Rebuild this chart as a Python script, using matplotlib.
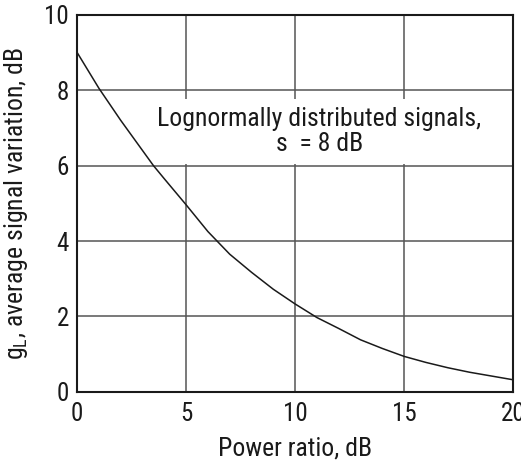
import matplotlib
matplotlib.use("Agg")
import matplotlib.pyplot as plt

power_ratio_db = [0, 1, 2, 3, 3.5, 4, 5, 6, 7, 8, 9, 10, 11, 12, 13, 14, 15, 16, 17, 18, 19, 20]
signal_variation_db = [9.0, 8.05, 7.2, 6.4, 6.0, 5.65, 4.96, 4.25, 3.65, 3.17, 2.72, 2.33,
                       1.97, 1.68, 1.38, 1.15, 0.94, 0.78, 0.64, 0.52, 0.42, 0.32]
x_ticks = [0, 5, 10, 15, 20]
y_ticks = [0, 2, 4, 6, 8, 10]
annotation = "Lognormally distributed signals,\ns  = 8 dB"

plt.rcParams['font.family'] = ['Roboto Condensed', 'Liberation Sans Narrow', 'Liberation Sans', 'DejaVu Sans']

fig = plt.figure(figsize=(5.21, 4.61), dpi=100)
ax = fig.add_axes([0.148, 0.150, 0.837, 0.818])

ax.plot(power_ratio_db, signal_variation_db, color='#1a1a1a', lw=1.1, zorder=4)

ax.set_xlim(0, 20)
ax.set_ylim(0, 10)
ax.set_xticks(x_ticks)
ax.set_yticks(y_ticks)
ax.tick_params(length=0, labelsize=18, colors='#1a1a1a')
ax.tick_params(axis='y', pad=6)
ax.tick_params(axis='x', pad=7)
ax.grid(True, color='#555555', lw=1.1)
ax.set_axisbelow(True)
for s in ax.spines.values():
    s.set_linewidth(1.5)
    s.set_color('#1a1a1a')

ax.set_xlabel("Power ratio, dB", fontsize=18.5, color='#1a1a1a', labelpad=8)
ax.set_ylabel(r"g$_\mathregular{L}$, average signal variation, dB", fontsize=18.5,
              color='#1a1a1a', labelpad=10)

ax.text(11.1, 6.9, annotation, ha='center', va='center', fontsize=18.5,
        color='#1a1a1a', linespacing=1.05, zorder=3,
        bbox=dict(boxstyle='square,pad=0.3', fc='white', ec='none'))

fig.savefig("out.png", dpi=100)
